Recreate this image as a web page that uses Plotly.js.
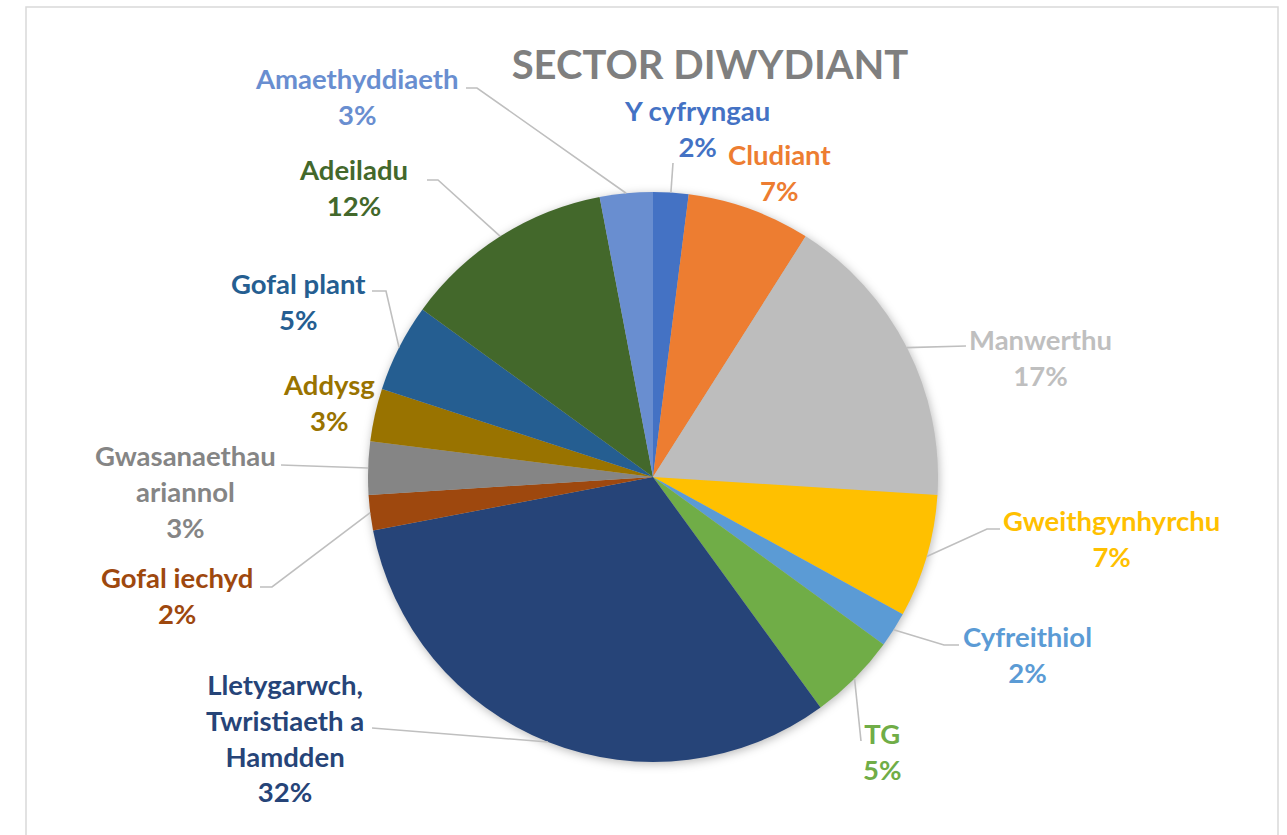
<!DOCTYPE html>
<html>
<head>
<meta charset="utf-8">
<script src="https://cdn.plot.ly/plotly-3.0.1.min.js"></script>
<style>
  html, body { margin: 0; padding: 0; background: #ffffff; }
  #chart { width: 1287px; height: 835px; }
  .pielayer { filter: drop-shadow(1px 2px 5px rgba(0,0,0,0.28)); }
</style>
</head>
<body>
<div id="chart"></div>
<script>
// ---- data (clockwise from 12 o'clock) ----
const categories = [
  "Y cyfryngau", "Cludiant", "Manwerthu", "Gweithgynhyrchu", "Cyfreithiol", "TG",
  "Lletygarwch, Twristiaeth a Hamdden", "Gofal iechyd", "Gwasanaethau ariannol",
  "Addysg", "Gofal plant", "Adeiladu", "Amaethyddiaeth"
];
const displayNames = [
  "Y cyfryngau", "Cludiant", "Manwerthu", "Gweithgynhyrchu", "Cyfreithiol", "TG",
  "Lletygarwch,<br>Twristiaeth a<br>Hamdden", "Gofal iechyd", "Gwasanaethau<br>ariannol",
  "Addysg", "Gofal plant", "Adeiladu", "Amaethyddiaeth"
];
const values = [2, 7, 17, 7, 2, 5, 32, 2, 3, 3, 5, 12, 3];
const sliceColors = [
  "#4472C4", "#ED7D31", "#BDBDBD", "#FFC000", "#5B9BD5", "#70AD47",
  "#264478", "#9E480E", "#858585", "#997300", "#255E91", "#43682B", "#698ED0"
];
const labelColors = [
  "#4472C4", "#ED7D31", "#BFBFBF", "#FFC000", "#5B9BD5", "#70AD47",
  "#264478", "#9E480E", "#858585", "#997300", "#255E91", "#43682B", "#698ED0"
];

// ---- layout (pixel placement of label text and leader line starts) ----
const W = 1287, H = 835;
const pieCx = 653, pieCy = 477, pieR = 285;
// label block centres [x, y] in pixels
const labelPos = [
  [697, 128], [779, 172], [1040, 357], [1111, 538], [1027, 654], [882, 751],
  [285, 738], [177, 595], [185, 491], [329, 402], [298, 301], [353, 188], [356, 96]
];
// leader lines: [startX, startY, elbowX, elbowY] or null
const leaders = [
  [673, 163, 673, 163], null, [966, 346, 966, 346], [1000, 529, 987, 529],
  [959, 645, 944, 645], [861, 741, 861, 741], [372, 728, 372, 728],
  [260, 587, 272, 587], [281, 465, 281, 465], null, [372, 291, 386, 291],
  [427, 180, 438, 180], [466, 88, 477, 88]
];

const px = x => x / W;
const py = y => 1 - y / H;

const total = values.reduce((a, b) => a + b, 0);
const annotations = [];
const shapes = [];
let cum = 0;
values.forEach((v, i) => {
  const mid = (cum + v / 2) / total;
  cum += v;
  const th = 2 * Math.PI * mid;
  const ax = pieCx + pieR * Math.sin(th);
  const ay = pieCy - pieR * Math.cos(th);
  const pct = Math.round(v / total * 100) + "%";
  annotations.push({
    xref: "paper", yref: "paper",
    x: px(labelPos[i][0]), y: py(labelPos[i][1]),
    xanchor: "center", yanchor: "middle", align: "center",
    showarrow: false,
    text: displayNames[i] + "<br>" + pct,
    font: { family: "Lato, 'Open Sans', sans-serif", size: 27.5, color: labelColors[i], weight: "bold" }
  });
  const L = leaders[i];
  if (L) {
    shapes.push({
      type: "path", xref: "paper", yref: "paper",
      path: `M ${px(L[0])} ${py(L[1])} L ${px(L[2])} ${py(L[3])} L ${px(ax)} ${py(ay)}`,
      line: { color: "#BFBFBF", width: 1.6 }
    });
  }
});

// chart border
shapes.push({
  type: "rect", xref: "paper", yref: "paper",
  x0: px(26), x1: px(1278), y0: py(850), y1: py(7),
  line: { color: "#D9D9D9", width: 1.5 }, fillcolor: "rgba(0,0,0,0)"
});

const trace = {
  type: "pie",
  labels: categories,
  values: values,
  sort: false,
  direction: "clockwise",
  rotation: 0,
  textinfo: "none",
  hoverinfo: "label+percent",
  marker: { colors: sliceColors, line: { width: 0 } },
  domain: { x: [px(pieCx - pieR), px(pieCx + pieR)], y: [py(pieCy + pieR), py(pieCy - pieR)] },
  showlegend: false
};

const layout = {
  width: W, height: H,
  margin: { l: 0, r: 0, t: 0, b: 0 },
  paper_bgcolor: "#ffffff",
  plot_bgcolor: "#ffffff",
  showlegend: false,
  title: {
    text: "SECTOR DIWYDIANT",
    x: px(710), xanchor: "center",
    y: py(65), yanchor: "middle",
    xref: "paper", yref: "container",
    font: { family: "Lato, 'Open Sans', sans-serif", size: 40, color: "#7F7F7F", weight: "bold" }
  },
  annotations: annotations,
  shapes: shapes
};

Plotly.newPlot("chart", [trace], layout, { displayModeBar: false, staticPlot: true });
</script>
</body>
</html>
